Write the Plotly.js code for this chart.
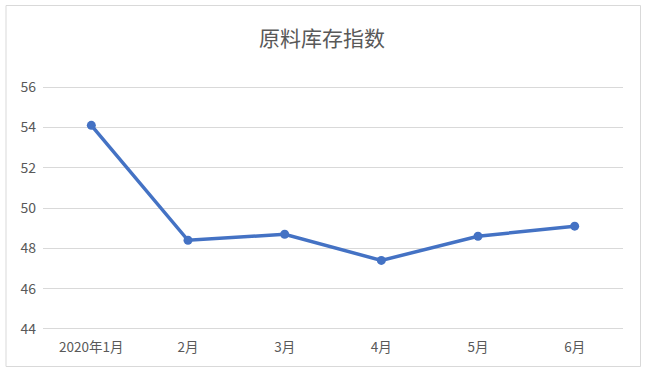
<!DOCTYPE html>
<html>
<head>
<meta charset="utf-8">
<script src="https://cdn.plot.ly/plotly-3.0.1.min.js"></script>
<style>
  html, body { margin: 0; padding: 0; background: #ffffff; }
  #chart { width: 648px; height: 372px; }
</style>
</head>
<body>
<div id="chart"></div>
<script>
// Raw material inventory index, Jan–Jun 2020
const months = ["2020年1月", "2月", "3月", "4月", "5月", "6月"];
const inventoryIndex = [54.1, 48.4, 48.7, 47.4, 48.6, 49.1];
const yTicks = [44, 46, 48, 50, 52, 54, 56];

const FONT = '"Noto Sans CJK SC", "Noto Sans", sans-serif';
const W = 648, H = 372;
const margin = { l: 43, r: 25, t: 85, b: 41 };
const plotW = W - margin.l - margin.r;
const plotH = H - margin.t - margin.b;

// outer frame around the whole chart, in paper units
const px = (x) => (x - margin.l) / plotW;
const py = (y) => (H - margin.b - y) / plotH;

const trace = {
  x: months,
  y: inventoryIndex,
  type: 'scatter',
  mode: 'lines+markers',
  line: { color: '#4472C4', width: 3.5 },
  marker: { color: '#4472C4', size: 9 },
  hoverinfo: 'x+y'
};

const layout = {
  width: W,
  height: H,
  margin: margin,
  paper_bgcolor: '#ffffff',
  plot_bgcolor: '#ffffff',
  showlegend: false,
  title: {
    text: '原料库存指数',
    font: { family: FONT, size: 21, color: '#595959' },
    x: 0.497,
    xanchor: 'center',
    y: 0.895,
    yanchor: 'middle'
  },
  xaxis: {
    type: 'category',
    range: [-0.5, 5.5],
    showgrid: false,
    zeroline: false,
    showline: false,
    ticks: '',
    ticklabelstandoff: 6,
    tickfont: { family: FONT, size: 13.5, color: '#595959' },
    fixedrange: true
  },
  yaxis: {
    // padded range so the 44 and 56 gridlines are drawn
    range: [43.9, 56.1],
    tickvals: yTicks,
    ticktext: yTicks.map(String),
    showgrid: true,
    gridcolor: '#d9d9d9',
    gridwidth: 1,
    zeroline: false,
    showline: false,
    ticks: '',
    ticklabelstandoff: 6,
    tickfont: { family: FONT, size: 14, color: '#595959' },
    fixedrange: true
  },
  shapes: [{
    type: 'rect',
    xref: 'paper', yref: 'paper',
    x0: px(6), x1: px(640.5),
    y0: py(366.5), y1: py(5.5),
    line: { color: '#d9d9d9', width: 1 },
    fillcolor: 'rgba(0,0,0,0)',
    layer: 'below'
  }]
};

Plotly.newPlot('chart', [trace], layout, { displayModeBar: false, staticPlot: true });
</script>
</body>
</html>
